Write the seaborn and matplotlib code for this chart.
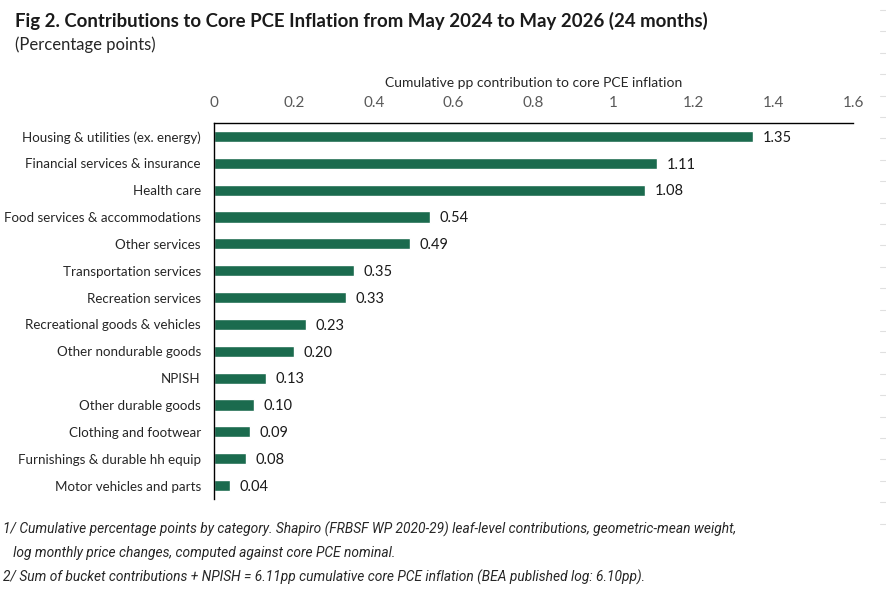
import matplotlib

matplotlib.use("Agg")
import matplotlib.pyplot as plt
from matplotlib.lines import Line2D
import seaborn as sns


CATEGORIES = [
    "Housing & utilities (ex. energy)",
    "Financial services & insurance",
    "Health care",
    "Food services & accommodations",
    "Other services",
    "Transportation services",
    "Recreation services",
    "Recreational goods & vehicles",
    "Other nondurable goods",
    "NPISH",
    "Other durable goods",
    "Clothing and footwear",
    "Furnishings & durable hh equip",
    "Motor vehicles and parts",
]
CONTRIBUTIONS = [1.35, 1.11, 1.08, 0.54, 0.49, 0.35, 0.33, 0.23, 0.20, 0.13, 0.10, 0.09, 0.08, 0.04]
X_TICKS = [0, 0.2, 0.4, 0.6, 0.8, 1.0, 1.2, 1.4, 1.6]
X_TICK_LABELS = ["0", "0.2", "0.4", "0.6", "0.8", "1", "1.2", "1.4", "1.6"]

TITLE = "Fig 2. Contributions to Core PCE Inflation from May 2024 to May 2026 (24 months)"
SUBTITLE = "(Percentage points)"
X_LABEL = "Cumulative pp contribution to core PCE inflation"
NOTES = [
    "1/ Cumulative percentage points by category. Shapiro (FRBSF WP 2020-29) leaf-level contributions, geometric-mean weight,",
    "   log monthly price changes, computed against core PCE nominal.",
    "2/ Sum of bucket contributions + NPISH = 6.11pp cumulative core PCE inflation (BEA published log: 6.10pp).",
]

BAR_COLOR = "#1b6b4e"
FONT = ["Lato", "DejaVu Sans"]


def main() -> None:
    sns.set_style("white")
    plt.rcParams["font.family"] = FONT

    fig = plt.figure(figsize=(8.87, 5.95), dpi=100)
    ax = fig.add_axes([214 / 887, 1 - 499 / 595, (853 - 214) / 887, (499 - 123) / 595])

    sns.barplot(x=CONTRIBUTIONS, y=CATEGORIES, orient="h", color=BAR_COLOR,
                width=0.42, saturation=1, ax=ax)

    for i, v in enumerate(CONTRIBUTIONS):
        ax.text(v + 0.024, i + 0.05, f"{v:.2f}", va="center", ha="left", fontsize=10.5, color="#1a1a1a")

    ax.set_xlim(0, 1.6)
    ax.set_ylim(13.5, -0.5)
    ax.xaxis.tick_top()
    ax.xaxis.set_label_position("top")
    ax.set_xticks(X_TICKS)
    ax.set_xticklabels(X_TICK_LABELS, fontsize=11, color="#595959")
    ax.set_xlabel(X_LABEL, fontsize=10, color="#262626", labelpad=6)
    ax.tick_params(axis="x", length=0, pad=9.5)
    ax.tick_params(axis="y", length=0, pad=9.5, labelsize=9.6, labelcolor="#262626")
    ax.set_ylabel("")

    for side in ["right", "bottom"]:
        ax.spines[side].set_visible(False)
    for side in ["top", "left"]:
        ax.spines[side].set_color("black")
        ax.spines[side].set_linewidth(1.0)

    fig.text(15 / 887, 1 - 21 / 595, TITLE, fontsize=13.4, fontweight="bold",
             va="center", ha="left", color="#1a1a1a")
    fig.text(15 / 887, 1 - 45 / 595, SUBTITLE, fontsize=12, va="center", ha="left", color="#262626")

    for y, note in zip([529, 553, 577], NOTES):
        fig.text(3 / 887, 1 - y / 595, note, fontsize=9.9, style="italic", va="center", ha="left",
                 color="#262626", family=["Liberation Sans Narrow", "Roboto", "DejaVu Sans"])

    # faint spreadsheet gridline stubs along the right edge
    y = 10
    while y < 535:
        fig.add_artist(Line2D([880 / 887, 887 / 887], [1 - y / 595, 1 - y / 595],
                              color="#e0e0e0", linewidth=0.8))
        y += 21.4

    fig.savefig("out.png", dpi=100)
    plt.close(fig)


if __name__ == "__main__":
    main()
